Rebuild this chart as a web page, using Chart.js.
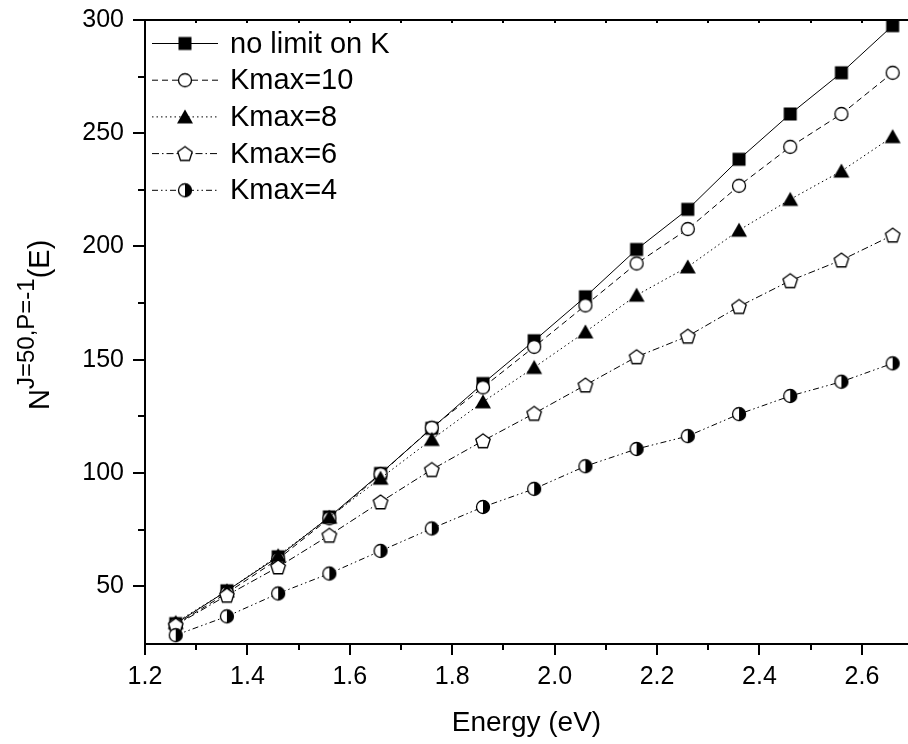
<!DOCTYPE html>
<html>
<head>
<meta charset="utf-8">
<script src="https://cdn.jsdelivr.net/npm/chart.js@4.4.0/dist/chart.umd.min.js"></script>
<style>
  html, body { margin: 0; padding: 0; background: #fff; }
  canvas { display: block; }
</style>
</head>
<body>
<canvas id="myChart" width="908" height="744"></canvas>
<script>
const energy = [1.26, 1.36, 1.46, 1.56, 1.66, 1.76, 1.86, 1.96, 2.06, 2.16, 2.26, 2.36, 2.46, 2.56, 2.66];
const noLimit = [33.5, 48, 63, 80.6, 99.8, 119.7, 139.5, 158.4, 177.8, 198.7, 216.4, 238.5, 258.5, 276.7, 297.5];
const kmax10 = [33, 47, 62, 80, 99.5, 120, 137.8, 155.7, 174, 192.5, 207.7, 226.8, 244, 258.5, 276.7];
const kmax8 = [34, 48, 63.5, 80.5, 97.7, 114.8, 131.4, 146.6, 162.3, 178.5, 191, 207.2, 220.8, 233.3, 248.5];
const kmax6 = [32.8, 46, 58.5, 72.5, 87.2, 101.5, 114.2, 126.3, 138.8, 151.3, 160.4, 173.5, 184.9, 194, 205];
const kmax4 = [28.4, 36.7, 46.8, 55.6, 65.6, 75.5, 85, 93, 103, 110.6, 116.3, 126, 134, 140.3, 148.4];

const seriesLabels = ["no limit on K", "Kmax=10", "Kmax=8", "Kmax=6", "Kmax=4"];
const xTicks = [1.2, 1.4, 1.6, 1.8, 2.0, 2.2, 2.4, 2.6];
const yTicks = [50, 100, 150, 200, 250, 300];

const FONT = "'Liberation Sans', Arial, sans-serif";

function makeMarker(kind) {
  const c = document.createElement("canvas");
  c.width = 20;
  c.height = 20;
  const ctx = c.getContext("2d");
  ctx.lineWidth = 1.3;
  ctx.strokeStyle = "#000";
  ctx.fillStyle = "#000";
  if (kind === "square") {
    ctx.fillRect(3.5, 3.5, 13, 13);
  } else if (kind === "circle") {
    ctx.beginPath();
    ctx.arc(10, 10, 6.5, 0, 2 * Math.PI);
    ctx.fillStyle = "#fff";
    ctx.fill();
    ctx.stroke();
  } else if (kind === "triangle") {
    ctx.beginPath();
    ctx.moveTo(10, 2.5);
    ctx.lineTo(18, 16.5);
    ctx.lineTo(2, 16.5);
    ctx.closePath();
    ctx.fill();
  } else if (kind === "pentagon") {
    ctx.beginPath();
    for (let k = 0; k < 5; k++) {
      const a = -Math.PI / 2 + (k * 2 * Math.PI) / 5;
      const px = 10 + 7.6 * Math.cos(a);
      const py = 10.6 + 7.6 * Math.sin(a);
      if (k === 0) ctx.moveTo(px, py);
      else ctx.lineTo(px, py);
    }
    ctx.closePath();
    ctx.fillStyle = "#fff";
    ctx.fill();
    ctx.stroke();
  } else if (kind === "half") {
    ctx.beginPath();
    ctx.arc(10, 10, 6.5, 0, 2 * Math.PI);
    ctx.fillStyle = "#fff";
    ctx.fill();
    ctx.beginPath();
    ctx.arc(10, 10, 6.5, -Math.PI / 2, Math.PI / 2);
    ctx.closePath();
    ctx.fillStyle = "#000";
    ctx.fill();
    ctx.beginPath();
    ctx.arc(10, 10, 6.5, 0, 2 * Math.PI);
    ctx.stroke();
  }
  return c;
}

const markers = ["square", "circle", "triangle", "pentagon", "half"].map(makeMarker);
const dashes = [[], [6, 4], [1.5, 3], [7, 3, 1.5, 3], [6, 3, 1.5, 3, 1.5, 3]];
const seriesValues = [noLimit, kmax10, kmax8, kmax6, kmax4];

const data = {
  datasets: seriesValues.map((vals, i) => ({
    label: seriesLabels[i],
    data: energy.map((e, j) => ({ x: e, y: vals[j] })),
    borderColor: "#000",
    backgroundColor: "#000",
    borderWidth: 1,
    borderDash: dashes[i],
    pointStyle: markers[i],
    pointRadius: 7,
    tension: 0,
    order: 5 - i,
  })),
};

// axes, ticks, legend and titles drawn by hand
const framePlugin = {
  id: "frame",
  afterDraw(chart) {
    const ctx = chart.ctx;
    const a = chart.chartArea;
    const xs = chart.scales.x;
    const ys = chart.scales.y;
    ctx.save();
    ctx.strokeStyle = "#000";
    ctx.lineWidth = 2;
    ctx.beginPath();
    ctx.moveTo(a.left, a.bottom + 11);
    ctx.lineTo(a.left, a.top);
    ctx.moveTo(a.left - 12, a.top);
    ctx.lineTo(a.right, a.top);
    ctx.moveTo(a.left, a.bottom);
    ctx.lineTo(a.right, a.bottom);
    ctx.stroke();

    ctx.beginPath();
    for (let v = 1.2; v < 2.695; v += 0.1) {
      const px = Math.round(xs.getPixelForValue(v));
      const major = Math.round(v * 10) % 2 === 0;
      ctx.moveTo(px, a.bottom);
      ctx.lineTo(px, a.bottom + (major ? 11 : 6));
      ctx.moveTo(px, a.top);
      ctx.lineTo(px, a.top + 3);
    }
    for (let v = 50; v <= 300; v += 25) {
      const py = Math.round(ys.getPixelForValue(v));
      const major = v % 50 === 0;
      ctx.moveTo(a.left, py);
      ctx.lineTo(a.left - (major ? 12 : 7), py);
    }
    ctx.stroke();

    // legend
    ctx.font = "29px " + FONT;
    ctx.textBaseline = "middle";
    ctx.textAlign = "left";
    ctx.fillStyle = "#000";
    chart.data.datasets.forEach((ds, i) => {
      const cy = 43.5 + i * 36.7;
      ctx.lineWidth = 1;
      ctx.setLineDash(ds.borderDash);
      ctx.beginPath();
      ctx.moveTo(152, cy);
      ctx.lineTo(218, cy);
      ctx.stroke();
      ctx.setLineDash([]);
      ctx.drawImage(ds.pointStyle, 185 - 10, cy - 10);
      ctx.fillText(ds.label, 230, cy + 1);
    });

    // x title
    ctx.font = "28px " + FONT;
    ctx.textAlign = "center";
    ctx.textBaseline = "alphabetic";
    ctx.fillText("Energy (eV)", (a.left + a.right) / 2, 731);

    // y title with superscript
    ctx.translate(49, 410);
    ctx.rotate(-Math.PI / 2);
    ctx.textAlign = "left";
    ctx.font = "29px " + FONT;
    ctx.fillText("N", 0, 0);
    let off = ctx.measureText("N").width;
    ctx.font = "24px " + FONT;
    ctx.fillText("J=50,P=-1", off, -15);
    off += ctx.measureText("J=50,P=-1").width;
    ctx.font = "29px " + FONT;
    ctx.fillText("(E)", off, 0);
    ctx.restore();
  },
};

const config = {
  type: "line",
  data: data,
  options: {
    responsive: false,
    animation: false,
    devicePixelRatio: 1,
    layout: { autoPadding: false, padding: { top: 20, left: 0, right: 0, bottom: 0 } },
    plugins: {
      legend: { display: false },
      tooltip: { enabled: false },
    },
    scales: {
      x: {
        type: "linear",
        min: 1.2,
        max: 2.69,
        grid: { display: false, drawTicks: false },
        border: { display: false },
        afterBuildTicks: (scale) => {
          scale.ticks = xTicks.map((v) => ({ value: v }));
        },
        afterFit: (scale) => {
          scale.height = 100;
          scale.paddingLeft = 0;
          scale.paddingRight = 0;
        },
        ticks: {
          padding: 18,
          color: "#000",
          font: { size: 25, family: FONT },
          maxRotation: 0,
          callback: (v) => Number(v).toFixed(1),
        },
      },
      y: {
        type: "linear",
        min: 24.5,
        max: 300,
        grid: { display: false, drawTicks: false },
        border: { display: false },
        afterBuildTicks: (scale) => {
          scale.ticks = yTicks.map((v) => ({ value: v }));
        },
        afterFit: (scale) => {
          scale.width = 145;
          scale.paddingTop = 0;
          scale.paddingBottom = 0;
        },
        ticks: {
          padding: 21,
          color: "#000",
          font: { size: 25, family: FONT },
          callback: (v) => String(v),
        },
      },
    },
  },
  plugins: [framePlugin],
};

const myChart = new Chart(document.getElementById("myChart"), config);
</script>
</body>
</html>
